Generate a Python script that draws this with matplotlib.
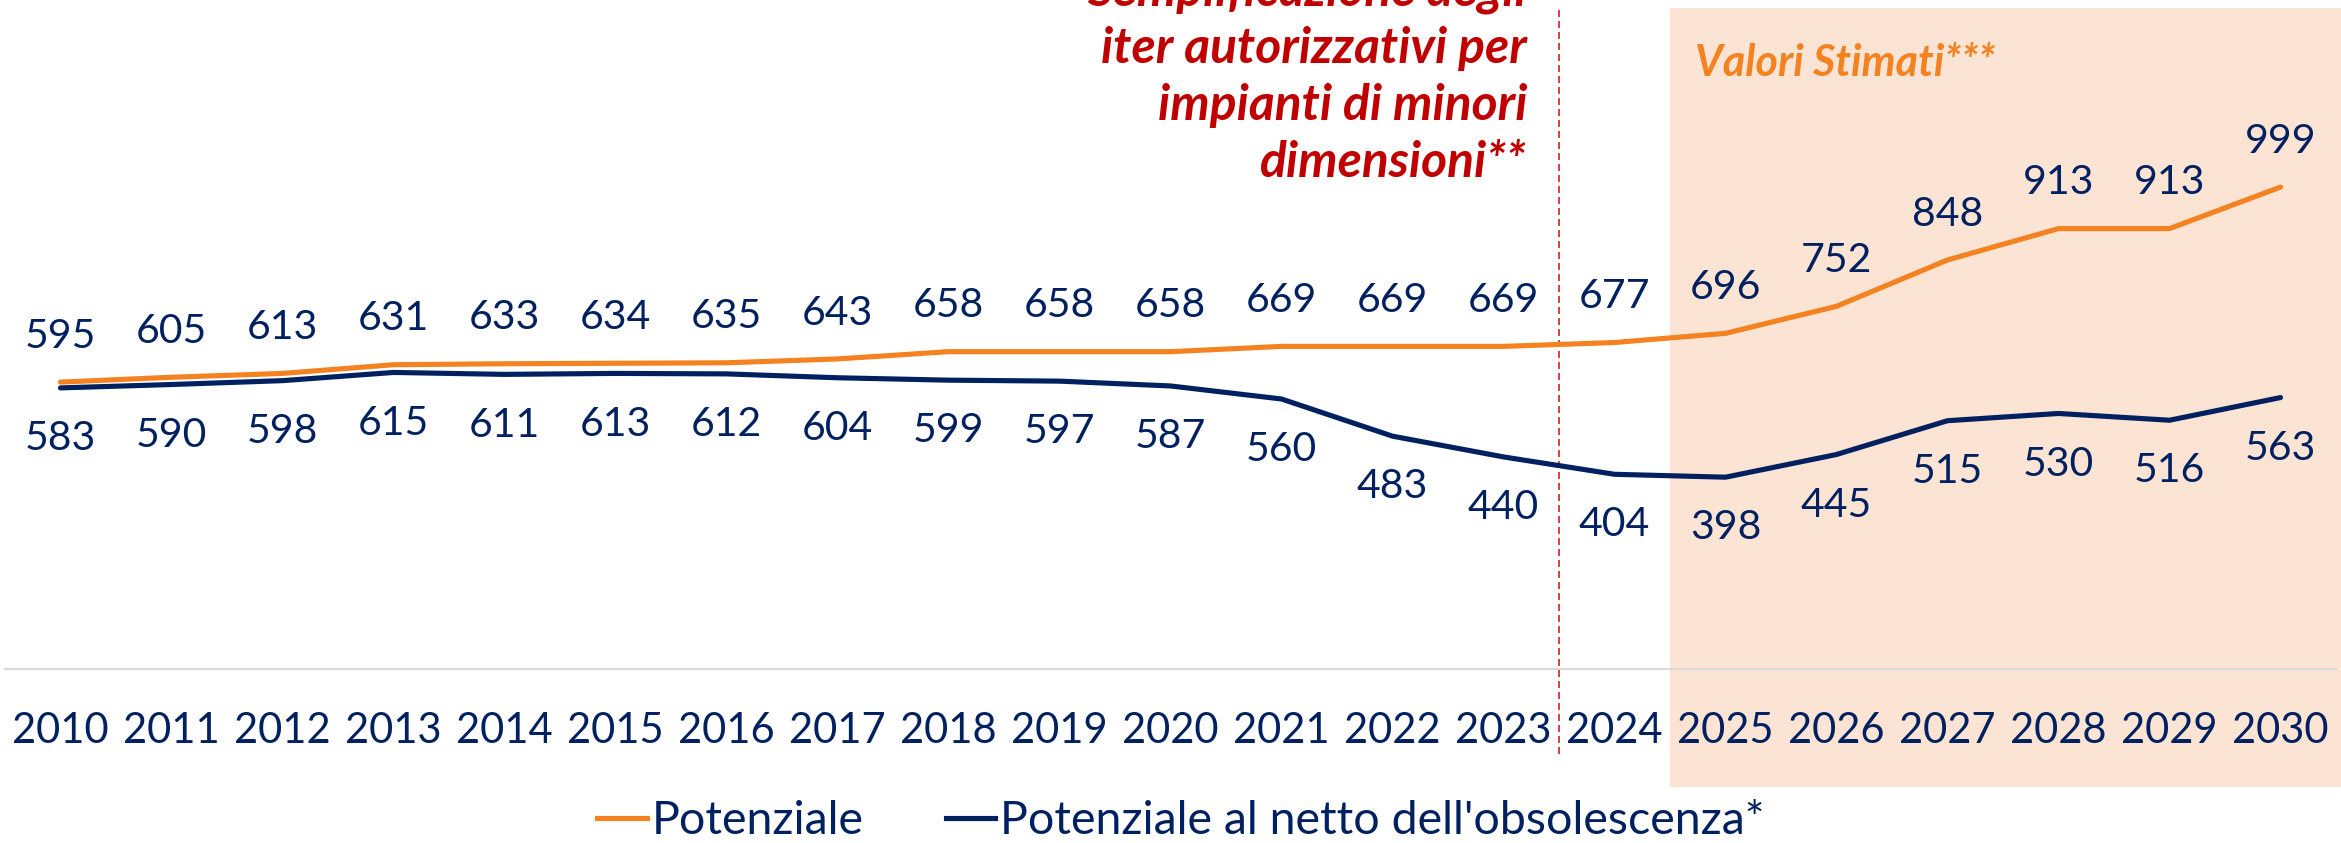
import matplotlib
matplotlib.use("Agg")
import matplotlib.pyplot as plt
from matplotlib.lines import Line2D

# ---- data ----
years = list(range(2010, 2031))
potenziale = [595, 605, 613, 631, 633, 634, 635, 643, 658, 658, 658,
              669, 669, 669, 677, 696, 752, 848, 913, 913, 999]
netto = [583, 590, 598, 615, 611, 613, 612, 604, 599, 597, 587,
         560, 483, 440, 404, 398, 445, 515, 530, 516, 563]
label_pot = "Potenziale"
label_net = "Potenziale al netto dell'obsolescenza*"
note_lines = ["Semplificazione degli", "iter autorizzativi per",
              "impianti di minori", "dimensioni**"]
est_label = "Valori Stimati***"
policy_year = 2023.5
estimate_start = 2024.5

# ---- style ----
ORANGE = "#F58220"
NAVY = "#002060"
RED = "#C00000"
SHADE = "#FCE4D4"
FONT = "Lato"
plt.rcParams["font.family"] = [FONT, "DejaVu Sans"]

W, H = 2341, 843
fig = plt.figure(figsize=(W / 100, H / 100), dpi=100)
ax_bottom = (H - 669.3) / H
ax = fig.add_axes([0, ax_bottom, 1, 1 - ax_bottom])
xmin, xmax = 2009.455, 2030.545
ax.set_xlim(xmin, xmax)
ax.set_ylim(0, 1386.6)

for s in ax.spines.values():
    s.set_visible(False)
ax.set_yticks([])
ax.set_xticks(years)
ax.set_xticklabels([str(y) for y in years], fontsize=30, color=NAVY)
ax.tick_params(axis="x", length=0, pad=31)

# shaded estimate area
axes_h = 669.3
ax.axvspan(estimate_start, xmax, ymin=-(786.7 - 669.3) / axes_h,
           ymax=(669.3 - 8) / axes_h, color=SHADE, lw=0, zorder=0,
           clip_on=False)

# baseline
ax.axhline(0, xmin=0.002, xmax=0.998, color="#d9d9d9", lw=1.6,
           clip_on=False, zorder=1)

# policy dashed line
ax.axvline(policy_year, ymin=-(754 - 669.3) / axes_h,
           ymax=(669.3 - 8) / axes_h, color="#D42020", lw=1.2,
           dashes=(4.2, 2.4), clip_on=False, zorder=2)

# lines
ax.plot(years, netto, color=NAVY, lw=3.7, solid_capstyle="round",
        solid_joinstyle="round", zorder=3, label=label_net)
ax.plot(years, potenziale, color=ORANGE, lw=3.7, solid_capstyle="round",
        solid_joinstyle="round", zorder=4, label=label_pot)

# data labels
for x, v in zip(years, potenziale):
    ax.annotate(str(v), (x, v), xytext=(0, 33), textcoords="offset points",
                ha="center", va="center", fontsize=29.5, color=NAVY)
for x, v in zip(years, netto):
    ax.annotate(str(v), (x, v), xytext=(0, -36.5), textcoords="offset points",
                ha="center", va="center", fontsize=29.5, color=NAVY)

# red note (right aligned, left of dashed line)
baselines = [5, 63, 120, 177]
for txt, b in zip(note_lines, baselines):
    fig.text(1527 / W, 1 - b / H, txt, ha="right", va="baseline",
             fontsize=35.8, fontweight="bold", fontstyle="italic", color=RED)

# estimate label
fig.text(1695 / W, 1 - 76 / H, est_label, ha="left", va="baseline",
         fontsize=31, fontweight="bold", fontstyle="italic", color=ORANGE)

# legend
handles = [Line2D([], [], color=ORANGE, lw=3.7),
           Line2D([], [], color=NAVY, lw=3.7)]
leg = fig.legend(handles, [label_pot, label_net], loc="center",
                 bbox_to_anchor=(1181 / W, 22 / H), ncol=2, frameon=False,
                 fontsize=33.5, handlelength=1.07, handletextpad=0.1,
                 columnspacing=1.76, borderaxespad=0, borderpad=0)
for t in leg.get_texts():
    t.set_color(NAVY)

fig.savefig("out.png", dpi=100, facecolor="white")
